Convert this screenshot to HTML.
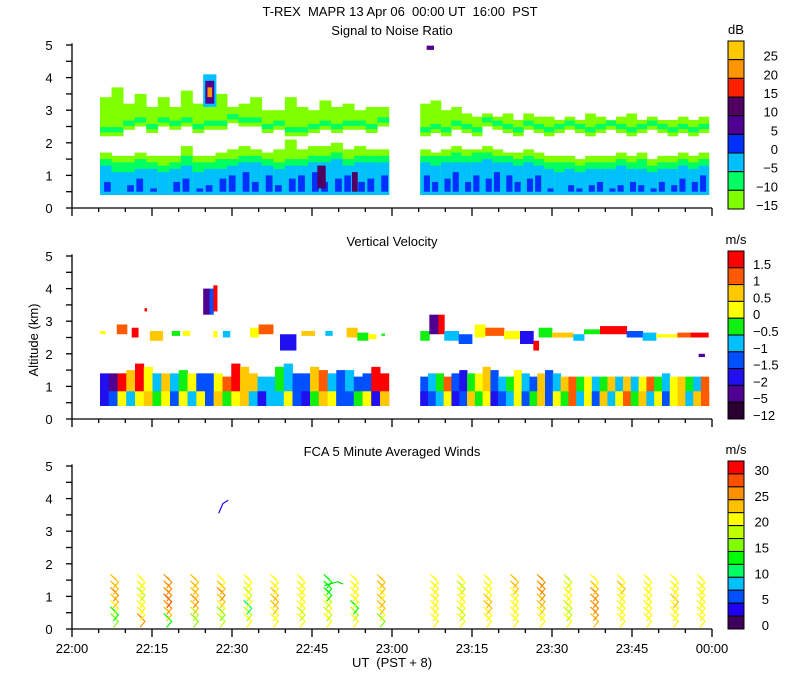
<!DOCTYPE html>
<html><head><meta charset="utf-8"><style>
html,body{margin:0;padding:0;background:#fff;}
svg{display:block;font-family:"Liberation Sans",sans-serif;}
text{fill:#000;font-size:13px;white-space:pre;}
</style></head><body>
<svg id="chart" width="800" height="700" viewBox="0 0 800 700" xmlns="http://www.w3.org/2000/svg">
<text x="400" y="16" text-anchor="middle" font-size="14" xml:space="preserve">T-REX  MAPR 13 Apr 06  00:00 UT  16:00  PST</text>
<text x="392" y="35" text-anchor="middle" font-size="14">Signal to Noise Ratio</text>
<text x="392" y="246" text-anchor="middle" font-size="14">Vertical Velocity</text>
<text x="392" y="456" text-anchor="middle" font-size="14">FCA 5 Minute Averaged Winds</text>
<text x="0" y="0" font-size="12" text-anchor="middle" transform="translate(38,340) rotate(-90)">Altitude (km)</text>
<text x="392" y="667" text-anchor="middle" xml:space="preserve">UT  (PST + 8)</text>
<g id="layers"></g>
</svg>
<script>
// ---------- DATA ----------
const xTickLabels = ["22:00","22:15","22:30","22:45","23:00","23:15","23:30","23:45","00:00"];
const yTickLabels = ["0","1","2","3","4","5"];
const snrLabels = ["25","20","15","10","5","0","−5","−10","−15"];
const velLabels = ["1.5","1","0.5","0","−0.5","−1","−1.5","−2","−5","−12"];
const windLabels = ["30","25","20","15","10","5","0"];
const snrColors = ["#ffc800","#ff9600","#ff2000","#500060","#500090","#0030ff","#00c0ff","#00ff60","#80ff00"];
const velColors = ["#ff0000","#ff5a00","#ffc800","#ffff00","#10f010","#00c0ff","#0050ff","#2010f0","#500090","#2a0030"];
const windColors = ["#ff0000","#ff5000","#ff9000","#ffc000","#ffff00","#c0ff00","#80ff00","#00ff00","#00ff60","#00c0ff","#0050ff","#2000f0","#40005a"];
const velThresholds = [-5,-2,-1.5,-1,-0.5,0,0.5,1,1.5];
const windThresholds = [2.5,5,7.5,10,12.5,15,17.5,20,22.5,25,27.5,30];

// SNR segments (minutes after 22:00)
const snrSegA = [5.25, 59.4];
const snrSegB = [65.3, 119.4];
const snrBlueA = [0.9,0.6,0.8,1.0,0.7,0.6,0.9,1.0,0.7,0.8,1.0,1.1,1.2,0.9,1.1,0.8,1.0,1.1,1.2,0.9,1.0,1.1,0.9,1.0,1.1];
const snrCyanA = [1.3,1.1,1.1,1.2,1.2,1.1,1.2,1.3,1.1,1.2,1.2,1.3,1.4,1.4,1.3,1.2,1.3,1.3,1.4,1.4,1.5,1.3,1.4,1.4,1.4];
const snrGreenA = [1.5,1.4,1.4,1.5,1.4,1.3,1.4,1.6,1.4,1.4,1.5,1.5,1.6,1.6,1.5,1.4,1.5,1.5,1.6,1.6,1.7,1.5,1.6,1.6,1.6];
const snrLimeA = [1.7,1.6,1.6,1.7,1.6,1.6,1.6,1.9,1.6,1.6,1.7,1.8,1.9,1.8,1.7,1.8,2.1,1.8,1.9,1.9,2.0,1.8,1.9,1.8,1.8];
const snrUpBotA = [2.2,2.2,2.4,2.5,2.3,2.5,2.4,2.5,2.3,2.4,2.4,2.6,2.5,2.5,2.3,2.4,2.2,2.2,2.3,2.4,2.3,2.4,2.4,2.3,2.5];
const snrUpTopA = [3.4,3.7,3.2,3.5,3.1,3.4,3.1,3.6,3.2,3.1,3.5,3.1,3.2,3.4,3.0,3.0,3.4,3.1,3.0,3.3,3.1,3.2,3.0,3.1,3.1];
const snrBlueB = [1.1,0.9,1.0,1.2,0.9,1.1,1.0,1.2,1.1,0.9,1.0,1.1,0.7,0.6,0.8,0.7,0.8,0.9,0.7,0.8,0.9,0.8,0.7,0.9,0.8,1.0,0.9,1.1];
const snrCyanB = [1.4,1.3,1.4,1.4,1.4,1.4,1.5,1.4,1.4,1.3,1.4,1.3,1.2,1.1,1.2,1.1,1.2,1.2,1.2,1.3,1.2,1.2,1.1,1.2,1.2,1.3,1.2,1.3];
const snrGreenB = [1.6,1.6,1.6,1.7,1.6,1.7,1.7,1.6,1.6,1.5,1.6,1.5,1.4,1.4,1.4,1.3,1.4,1.4,1.4,1.5,1.4,1.5,1.3,1.4,1.4,1.5,1.4,1.5];
const snrLimeB = [1.8,1.7,1.8,1.9,1.8,1.8,1.9,1.8,1.7,1.7,1.8,1.7,1.6,1.6,1.6,1.5,1.6,1.6,1.6,1.7,1.6,1.7,1.5,1.6,1.6,1.7,1.6,1.7];
const snrUpBotB = [2.2,2.3,2.2,2.4,2.3,2.2,2.5,2.4,2.3,2.2,2.4,2.3,2.2,2.3,2.4,2.3,2.2,2.3,2.4,2.3,2.2,2.3,2.4,2.3,2.2,2.3,2.2,2.3];
const snrUpTopB = [3.2,3.3,3.0,3.1,2.9,2.8,2.9,2.8,2.9,2.7,2.9,2.8,2.8,2.7,2.8,2.7,2.9,2.8,2.7,2.8,2.9,2.7,2.8,2.7,2.7,2.8,2.7,2.8];
// isolated SNR features: [tStart,tEnd,kmBot,kmTop,colorIndex]
const snrSpots = [[24.6,27.0,3.1,4.1,6],[25.0,26.6,3.2,3.9,4],[25.4,26.2,3.4,3.7,1],[66.5,67.8,4.85,4.98,4],[46.0,47.5,0.6,1.3,3],[52.5,53.5,0.5,1.1,3]];

// Vertical velocity
const velSegA = [5.25, 59.4];
const velSegB = [65.3, 119.4];
const velTopA = [1.4,1.4,1.4,1.5,1.7,1.6,1.4,1.4,1.4,1.5,1.4,1.4,1.4,1.4,1.3,1.7,1.6,1.4,1.3,1.3,1.6,1.7,1.4,1.4,1.6,1.5,1.4,1.5,1.5,1.3,1.4,1.6,1.4];
const velLowA = [-1.8,-1.2,0.2,-0.7,0.3,0.6,-0.3,0.1,-1.1,0.4,-0.8,0.2,-1.2,0.7,-0.4,0.2,0.5,-0.9,-1.6,-1.0,-0.6,0.3,-1.3,-1.7,-0.5,0.8,0.2,-1.4,-1.1,-0.3,0.4,-1.8,0.9];
const velHighA = [-1.6,-2.5,1.6,0.8,1.7,0.2,-0.6,0.6,-1.0,-0.2,0.3,-1.2,-1.1,0.4,1.2,1.6,0.9,0.6,-0.8,-1.0,-0.3,-0.7,-1.2,-1.3,0.6,1.1,-1.0,-1.2,-0.8,-1.4,-1.1,1.6,1.7];
const velTopB = [1.3,1.4,1.4,1.3,1.4,1.5,1.4,1.4,1.6,1.5,1.3,1.3,1.5,1.4,1.3,1.4,1.5,1.4,1.3,1.3,1.3,1.3,1.3,1.3,1.3,1.3,1.3,1.3,1.3,1.3,1.3,1.4,1.3,1.3,1.3,1.3,1.3];
const velLowB = [-1.6,-1.2,-0.8,0.3,-1.9,-1.3,0.6,-0.5,0.2,-1.7,-1.1,-0.7,0.4,-1.4,-0.2,0.9,-1.3,0.3,-0.4,1.2,-0.7,0.2,-1.2,0.6,-0.6,0.4,1.1,-0.3,0.6,-0.8,0.3,-1.2,0.2,0.7,-0.6,0.5,1.4];
const velHighB = [-1.3,-0.9,-0.4,1.0,-1.3,-1.6,-0.3,0.4,0.9,-1.2,-1.0,-0.4,0.3,-0.8,-1.1,0.6,-1.2,-0.6,0.8,1.3,-0.3,0.4,-0.9,-0.2,0.7,-0.6,0.5,-0.7,0.3,1.1,-0.5,-1.0,0.2,0.6,-0.4,-0.7,1.2];
// upper velocity patches: [tStart,tEnd,kmBot,kmTop,velocity]
const velPatches = [
 [5.3,6.2,2.6,2.7,0.3],[8.4,10.3,2.6,2.9,1.1],[11.2,12.4,2.5,2.8,1.6],[13.6,14.0,3.3,3.4,1.6],
 [14.6,17.0,2.4,2.7,0.8],[18.7,20.2,2.55,2.7,-0.4],[20.8,22.1,2.55,2.7,0.2],
 [24.6,25.8,3.2,4.0,-3],[25.8,26.5,3.2,4.0,-1.2],[26.5,27.2,3.3,4.1,1.7],
 [26.5,27.2,2.5,2.7,0.3],[28.3,29.6,2.5,2.7,-0.6],[33.4,35.0,2.5,2.8,0.4],[35.0,37.7,2.6,2.9,1.0],
 [39.0,42.0,2.1,2.6,-1.7],[43.0,45.5,2.55,2.7,0.8],[47.5,48.8,2.55,2.7,-0.8],
 [51.5,53.5,2.5,2.8,0.7],[53.5,55.5,2.4,2.65,-0.3],[55.5,57.0,2.45,2.6,0.3],[58.0,58.6,2.55,2.62,-0.3],
 [65.3,67.0,2.4,2.7,-0.3],[67.0,68.7,2.6,3.2,-3],[68.7,69.8,2.6,3.2,1.6],[69.8,72.5,2.4,2.7,-1.0],
 [72.5,75.0,2.3,2.6,-1.4],[75.5,77.5,2.5,2.9,0.2],[77.5,81.0,2.55,2.8,1.2],[81.0,84.0,2.45,2.7,0.4],
 [84.0,86.5,2.3,2.7,-1.6],[86.5,87.5,2.1,2.4,1.6],[87.5,90.0,2.5,2.8,-0.3],[90.0,94.0,2.5,2.65,0.6],
 [94.0,96.0,2.4,2.6,-0.8],[96.0,99.0,2.6,2.75,-0.2],[99.0,104.0,2.6,2.85,1.5],[104.0,107.0,2.5,2.7,-1.1],
 [107.0,109.5,2.4,2.65,-0.6],[109.5,113.5,2.5,2.6,0.2],[113.5,116.0,2.5,2.65,1.0],[116.0,119.3,2.5,2.65,1.6],
 [117.5,118.6,1.9,2.0,-3]
];

// Winds: cluster times (min), speeds per level (m/s)
const windTimes = [7,12,17,22,27,32,37,42,47,52,57,67,72,77,82,87,92,97,102,107,112,117];
const windLevels = [0.05,0.25,0.45,0.65,0.85,1.05,1.25];
const windSpeeds = [
 [16,14,22,24,25,23,24],[25,20,20,21,19,20,21],[13,24,27,28,27,25,26],[16,19,24,25,24,23,23],
 [18,17,20,24,25,23,22],[21,18,12,20,19,20,21],[21,20,24,24,23,21,22],[20,19,21,20,22,21,20],
 [20,18,21,19,14,13,13],[20,18,14,20,22,21,22],[16,20,23,23,22,23,24],
 [20,21,22,22,21,22,21],[20,19,21,21,20,19,20],[21,22,24,23,22,22,21],[21,20,20,21,22,24,23],
 [21,22,23,24,25,27,26],[20,19,18,20,21,21,19],[24,25,27,27,26,23,22],[20,20,21,21,22,23,22],
 [20,20,21,21,20,21,22],[21,22,22,23,21,22,21],[20,21,22,21,22,21,20]
];

// ---------- SCALES ----------
const L = document.getElementById('layers');
const NS = 'http://www.w3.org/2000/svg';
const panels = [{y0:208},{y0:419},{y0:629}];
const kmPx = 32.6;
function xs(t){ return 72 + t*640/120; }
function ys(p,km){ return panels[p].y0 - km*kmPx; }
function mk(tag, attrs, parent){ const e=document.createElementNS(NS,tag); for(const k in attrs) e.setAttribute(k,attrs[k]); (parent||L).appendChild(e); return e; }
function rectKm(p,t0,t1,k0,k1,fill,g){
  if(k1<=k0) return;
  const r = mk('rect',{x:xs(t0).toFixed(2),y:ys(p,k1).toFixed(2),width:(xs(t1)-xs(t0)+0.4).toFixed(2),height:((k1-k0)*kmPx).toFixed(2),fill:fill},g);
  
  
}
function binIdx(v,th){ let i=0; while(i<th.length && v>=th[i]) i++; return i; }
function velColor(v){ return velColors[velColors.length-1-binIdx(v,velThresholds)]; }
function windColor(v){ return windColors[windColors.length-1-binIdx(v,windThresholds)]; }

// ---------- SNR ----------
const gS = mk('g',{});


function drawSnr(seg,blue,cyan,green,lime,ub,ut){
  const n=blue.length, st=(seg[1]-seg[0])/n;
  for(let i=0;i<n;i++){
    const t0=seg[0]+i*st, t1=t0+st;
    rectKm(0,t0,t1,0.4,lime[i],snrColors[8],gS);
    rectKm(0,t0,t1,0.4,green[i],snrColors[7],gS);
    rectKm(0,t0,t1,0.4,cyan[i],snrColors[6],gS);
    const bt = t0 + st*(i%2?0.15:0.35);
    rectKm(0,bt,bt+st*0.55,0.5,blue[i]-0.1,snrColors[5],gS);
    rectKm(0,t0,t1,ub[i],ut[i],snrColors[8],gS);
    rectKm(0,t0,t1,ub[i]+0.12,ub[i]+0.28,snrColors[7],gS);
  }
}
drawSnr(snrSegA,snrBlueA,snrCyanA,snrGreenA,snrLimeA,snrUpBotA,snrUpTopA);
drawSnr(snrSegB,snrBlueB,snrCyanB,snrGreenB,snrLimeB,snrUpBotB,snrUpTopB);
snrSpots.forEach(s=>rectKm(0,s[0],s[1],s[2],s[3],snrColors[s[4]],gS));

// ---------- VELOCITY ----------
const gV = mk('g',{});


function drawVel(seg,top,lo,hi){
  const n=top.length, st=(seg[1]-seg[0])/n;
  for(let i=0;i<n;i++){
    const t0=seg[0]+i*st, t1=t0+st;
    rectKm(1,t0,t1,0.4,top[i],velColor(hi[i]),gV);
    rectKm(1,t0,t1,0.4,0.85,velColor(lo[i]),gV);
  }
}
drawVel(velSegA,velTopA,velLowA,velHighA);
drawVel(velSegB,velTopB,velLowB,velHighB);
velPatches.forEach(p=>rectKm(1,p[0],p[1],p[2],p[3],velColor(p[4]),gV));

// ---------- WINDS ----------
const gW = mk('g',{fill:'none','stroke-width':'1.2'});


windTimes.forEach((t,i)=>{
  windLevels.forEach((k,j)=>{
    const sp=windSpeeds[i][j], x=xs(t), y=ys(2,k), c=windColor(sp);
    const pl = mk('polyline',{points:`${x+1},${y-14} ${x+9},${y-6} ${x+4},${y}`,stroke:c},gW);
    
    
    const f = mk('polyline',{points:`${x+3},${y-12} ${x+7},${y-9}`,stroke:c},gW);
    
    
  });
});
const sb = mk('polyline',{points:`${xs(27.5)},${ys(2,3.55)} ${xs(28.3)},${ys(2,3.85)} ${xs(29.3)},${ys(2,3.95)}`,stroke:'#2000f0'},gW);


const gb = mk('polyline',{points:`${xs(47.3)},${ys(2,1.33)} ${xs(49.8)},${ys(2,1.45)} ${xs(50.8)},${ys(2,1.38)}`,stroke:'#00e000'},gW);



// ---------- AXES ----------
panels.forEach((p,pi)=>{
  const g = mk('g',{stroke:'#000','stroke-width':'1.3'});
  
  
  const top=ys(pi,5.05);
  mk('line',{x1:72,y1:top,x2:72,y2:p.y0},g);
  mk('line',{x1:72,y1:p.y0,x2:712,y2:p.y0},g);
  for(let k=0;k<=10;k++){ const y=ys(pi,k*0.5); mk('line',{x1:66,y1:y,x2:72,y2:y},g); }
  for(let m=0;m<=24;m++){ const x=xs(m*5), len=(m%3===0)?8:4; mk('line',{x1:x,y1:p.y0,x2:x,y2:p.y0+len},g); }
  yTickLabels.forEach((lab,k)=>{
    const t=mk('text',{x:49,y:ys(pi,k)+5,'text-anchor':'middle'});
    t.textContent=lab;
    
    
  });
});
xTickLabels.forEach((lab,i)=>{
  const t=mk('text',{x:xs(i*15),y:653,'text-anchor':'middle'});
  t.textContent=lab;
  
  
});

// ---------- COLORBARS ----------
function colorbar(colors,labels,top,bottom,unit,anchor,lx,every,name){
  const g=mk('g',{});
  
  
  const h=(bottom-top)/colors.length;
  colors.forEach((c,i)=>{
    const r=mk('rect',{x:728,y:top+i*h,width:16,height:h,fill:c,stroke:'#000','stroke-width':'1'},g);
    
    
  });
  labels.forEach((lab,i)=>{
    const bi=i*every;
    const t=mk('text',{x:lx,y:top+(bi+1)*h+1,'text-anchor':anchor},g);
    t.textContent=lab;
    
    
  });
  const u=mk('text',{x:736,y:top-7,'text-anchor':'middle','font-size':'14'},g);
  u.textContent=unit;
  
  
}
colorbar(snrColors,snrLabels,41,209,'dB','end',778,1,'snr-colorbar');
colorbar(velColors,velLabels,251,419,'m/s','start',753,1,'velocity-colorbar');
colorbar(windColors,windLabels,461,629,'m/s','end',769,2,'wind-colorbar');
</script>
</body></html>
